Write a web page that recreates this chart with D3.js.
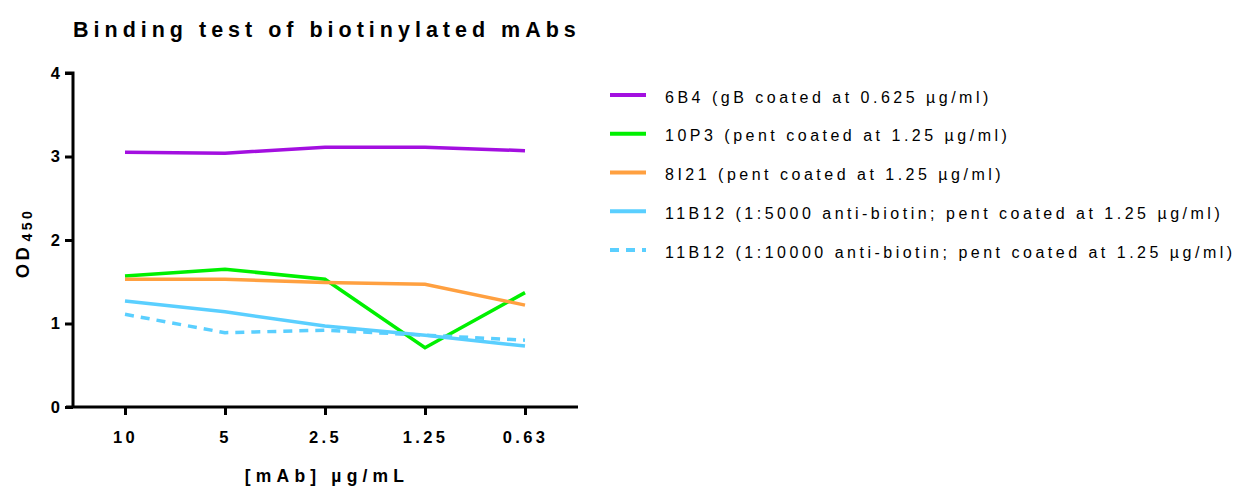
<!DOCTYPE html>
<html>
<head>
<meta charset="utf-8">
<script src="https://cdn.jsdelivr.net/npm/d3@7"></script>
<style>
  body { margin: 0; background: #fff; }
  text { font-family: "Liberation Sans", Arial, sans-serif; }
</style>
</head>
<body>
<svg id="chart" width="1237" height="489"></svg>
<script>
// concentrations on the x axis (categorical, as drawn)
const concentrations = ["10", "5", "2.5", "1.25", "0.63"];

// OD450 readings per mAb
const od6B4 = [3.05, 3.04, 3.11, 3.11, 3.07];
const od10P3 = [1.57, 1.65, 1.53, 0.71, 1.37];
const od8I21 = [1.53, 1.53, 1.49, 1.47, 1.22];
const od11B12_5000 = [1.27, 1.14, 0.97, 0.86, 0.73];
const od11B12_10000 = [1.11, 0.89, 0.92, 0.86, 0.80];

const seriesNames = [
  "6B4 (gB coated at 0.625 \u00b5g/ml)",
  "10P3 (pent coated at 1.25 \u00b5g/ml)",
  "8I21 (pent coated at 1.25 \u00b5g/ml)",
  "11B12 (1:5000 anti-biotin; pent coated at 1.25 \u00b5g/ml)",
  "11B12 (1:10000 anti-biotin; pent coated at 1.25 \u00b5g/ml)"
];
const seriesColors = ["#a30fe0", "#00f000", "#ffa040", "#5acfff", "#5acfff"];
const seriesDash = [null, null, null, null, "9,7"];
const seriesValues = [od6B4, od10P3, od8I21, od11B12_5000, od11B12_10000];

const yTicks = [0, 1, 2, 3, 4];

const svg = d3.select("#chart");

const x = d3.scalePoint().domain(concentrations).range([125, 525]);
const y = d3.scaleLinear().domain([0, 4]).range([407, 73]);

// title
svg.append("text")
  .attr("x", 73).attr("y", 37)
  .attr("font-size", 21.5).attr("font-weight", "bold")
  .attr("letter-spacing", 5)
  .text("Binding test of biotinylated mAbs");

// axes
const yAxis = svg.append("g")
  .attr("transform", "translate(73,0)")
  .call(d3.axisLeft(y).tickValues(yTicks).tickSize(8).tickPadding(5).tickFormat(d3.format("d")));

const xAxis = svg.append("g")
  .attr("transform", "translate(0,407)")
  .call(d3.axisBottom(x).tickSize(8).tickPadding(16).tickSizeOuter(0));

[xAxis, yAxis].forEach(g => {
  g.selectAll("path, line").attr("stroke", "#000").attr("stroke-width", 3);
  g.selectAll("text")
    .attr("font-size", 16.5).attr("font-weight", "bold").attr("fill", "#000")
    .attr("font-family", "Liberation Sans, Arial, sans-serif");
});
xAxis.selectAll("text").attr("letter-spacing", 3.3);
// x axis spans wider than the point range
xAxis.select(".domain").attr("d", "M66,0H578");
yAxis.select(".domain").attr("d", "M-8,73H0V408");

// axis labels
svg.append("text")
  .attr("x", 327).attr("y", 482)
  .attr("text-anchor", "middle")
  .attr("font-size", 17.5).attr("font-weight", "bold")
  .attr("letter-spacing", 5.2)
  .text("[mAb] \u00b5g/mL");

const yl = svg.append("text")
  .attr("transform", "translate(29,243) rotate(-90)")
  .attr("text-anchor", "middle")
  .attr("font-size", 18.5).attr("font-weight", "bold")
  .attr("letter-spacing", 3.5);
yl.append("tspan").text("OD");
yl.append("tspan").attr("font-size", 14).attr("dy", 3).attr("dx", 2).text("450");

// lines
const line = d3.line()
  .x((d, i) => x(concentrations[i]))
  .y(d => y(d));

seriesValues.forEach((vals, i) => {
  svg.append("path")
    .datum(vals)
    .attr("fill", "none")
    .attr("stroke", seriesColors[i])
    .attr("stroke-width", 3.5)
    .attr("stroke-dasharray", seriesDash[i])
    .attr("d", line);
});

// legend
const legendY = d3.scaleLinear().domain([0, 4]).range([95, 250]);
const legend = svg.append("g");
seriesNames.forEach((name, i) => {
  const ly = legendY(i);
  legend.append("line")
    .attr("x1", 610).attr("x2", 646)
    .attr("y1", ly).attr("y2", ly)
    .attr("stroke", seriesColors[i])
    .attr("stroke-width", 4)
    .attr("stroke-dasharray", seriesDash[i]);
  legend.append("text")
    .attr("x", 665).attr("y", ly + 7.5)
    .attr("font-size", 16)
    .attr("letter-spacing", 3.5)
    .attr("fill", "#000")
    .text(name);
});
</script>
</body>
</html>
